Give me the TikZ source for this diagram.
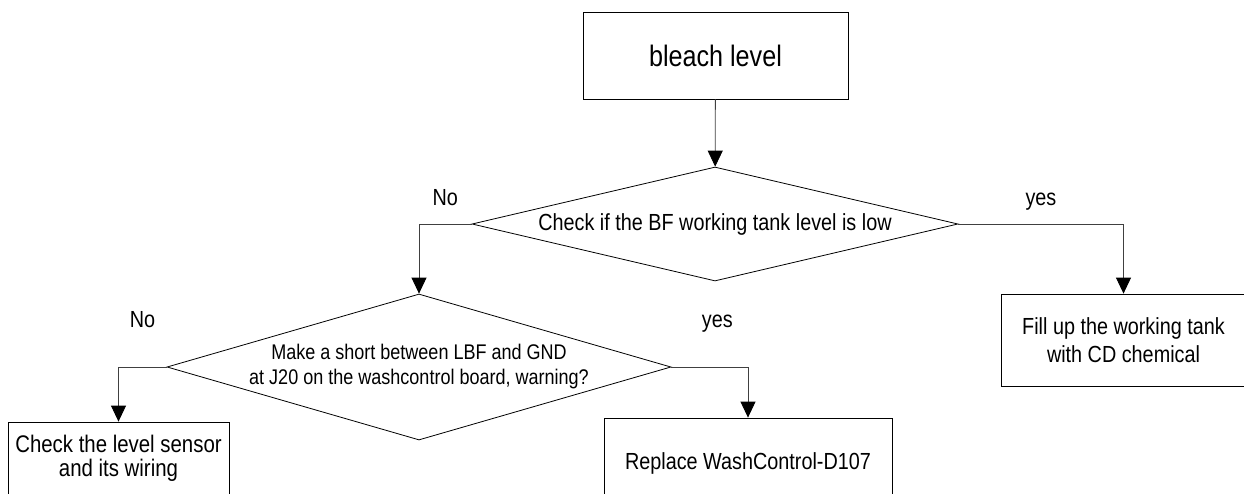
\documentclass[tikz,border=0pt]{standalone}
\usepackage{fontspec}
\setmainfont{Liberation Sans}[FakeStretch=0.85]
\usetikzlibrary{shapes.geometric, arrows.meta}

\tikzset{
  block/.style={draw, rectangle, inner sep=0pt, align=center, font=\fontsize{23.3}{28}\selectfont},
  decision/.style={draw, diamond, inner sep=0pt, align=center},
  conn/.style={-{Triangle[width=15pt,length=16pt,color=black]}, draw=black!75, line width=0.8pt},
  answer/.style={inner sep=0pt, text height=16pt, text depth=5pt, font=\fontsize{23.3}{28}\selectfont},
}

\begin{document}
\begin{tikzpicture}[x=1pt, y=-1pt, line width=0.8pt]
  \useasboundingbox (0,0) rectangle (1244,493);
  \node[block, minimum width=265pt, minimum height=87pt, font=\fontsize{29.6}{34}\selectfont] (start) at (715.5,55.5) {bleach level};
  \node[decision, aspect=4.26, minimum width=486pt, minimum height=114pt, font=\fontsize{23.3}{28}\selectfont] (tank) at (715,224) {Check if the BF working tank level is low};
  \node[decision, aspect=3.45, minimum width=504pt, minimum height=146pt, font=\fontsize{21.2}{25}\selectfont] (short) at (419,367) {Make a short between LBF and GND\\at J20 on the washcontrol board, warning?};
  \node[block, minimum width=244pt, minimum height=92pt] (fill) at (1123.5,340) {Fill up the working tank\\with CD chemical};
  \node[block, minimum width=221pt, minimum height=72pt, font=\fontsize{24}{24}\selectfont] (sensor) at (118.5,458) {Check the level sensor\\and its wiring};
  \node[block, minimum width=288pt, minimum height=90pt] (replace) at (748,463) {Replace WashControl-D107};

  % connectors
  \draw[conn] (start) -- (tank);
  \draw[conn] (tank.west) -| node[answer, pos=0.25, above=13pt] (no1) {No} (short.north);
  \draw[conn] (tank.east) -| node[answer, pos=0.25, above=13pt] (yes1) {yes} (fill.north);
  \draw[conn] (short.west) -| node[answer, pos=0.25, above=34pt] (no2) {No} (sensor.north);
  \draw[conn] (short.east) -| node[answer, pos=0.3, above=34pt] (yes2) {yes} (replace.north);
\end{tikzpicture}
\end{document}
